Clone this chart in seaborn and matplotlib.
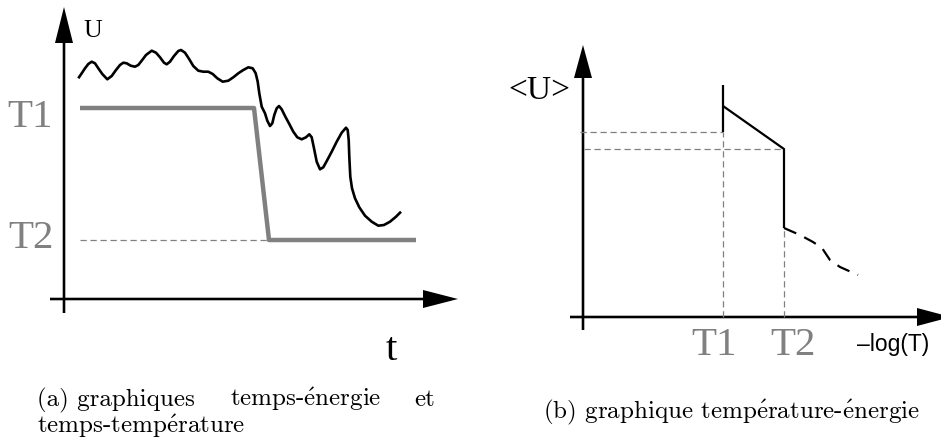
import matplotlib
matplotlib.use("Agg")
import matplotlib.pyplot as plt
import seaborn as sns

# (a) time-energy / time-temperature, units = px offsets from the axes origin
time_u = [14.3, 17.7, 21, 24.3, 27.7, 31, 34.3, 38.3, 43.3, 47.7,
          52, 56, 59.3, 62.7, 66.7, 71, 74.3, 77.7, 82, 87.7,
          92, 96, 100, 102.7, 106, 110, 114.3, 117, 121, 125.3,
          129.3, 134.3, 139.3, 144.3, 148.7, 153.3, 158.7, 164.3, 169.3, 174.3,
          179.3, 184.3, 188.7, 191.7, 193.7, 195.3, 197.7,
          201, 203.3, 206, 208.3, 210.3, 212.7, 215, 217.7, 221, 225.3,
          229.3, 233.3, 237.7, 242, 245.3, 247.7, 250, 252.7, 256, 259.3,
          263.3, 267.7, 272.7, 277.7, 282, 283.7, 284.7, 285.3, 286.3, 288,
          291, 295.3, 301, 307.7, 314.3, 320, 326, 332, 337]
energy_u = [220.7, 225.7, 230.7, 235, 237.3, 235.7, 230.7, 225, 219.7, 223,
            229, 234, 236.3, 235.7, 233.3, 232.3, 234, 238.3, 244, 248.3,
            246.3, 241.7, 236.3, 234.7, 237.3, 243, 248, 249, 246.3, 239.7,
            233, 228.3, 227.3, 227.3, 225, 220.7, 217.3, 218.3, 221.7, 225.7,
            229, 231.7, 230.7, 225.7, 217.3, 205.7, 192.3,
            185.7, 178.3, 173, 175.7, 184, 190.7, 193, 189.7, 183, 175,
            167.3, 161.7, 159.7, 161.7, 164.7, 161.7, 150.7, 137.3, 129.7, 131.7,
            139, 147.3, 157.3, 166.3, 171.3, 169, 159, 142.3, 122.3, 110.7,
            100.7, 91.7, 83.3, 77.3, 73.3, 74, 77.3, 82.3, 87.3]
time_temp = [16, 190, 205, 352]
temp_level = [191, 191, 59, 59]
T1_level, T2_level = 191, 59

# (b) temperature-energy
x_T1, x_T2 = 140, 201
jump_x = [140, 140]
jump_u = [185, 232]
mean_x = [140, 201, 201]
mean_u = [211, 168, 89]
tail_x = [201, 217, 230, 239, 247, 257, 275]
tail_u = [89, 82, 75, 69, 57, 50, 42]
U_at_T1, U_at_T2 = 185, 168

captions = {
    "a1": "(a) graphiques",
    "a2": r"temps-$\mathrm{\acute{e}}$nergie",
    "a3": "et",
    "a4": r"temps-temp$\mathrm{\acute{e}}$rature",
    "b": r"(b) graphique temp$\mathrm{\acute{e}}$rature-$\mathrm{\acute{e}}$nergie",
}

sns.set_style("white")
plt.rcParams["mathtext.fontset"] = "cm"

W, H = 941, 443
fig = plt.figure(figsize=(W / 100, H / 100), dpi=100)
GRAY = "#808080"
SERIF = ["Liberation Serif", "DejaVu Serif"]
CM = ["cmr10", "Liberation Serif"]
LINE = dict(sort=False, estimator=None, solid_joinstyle="round",
            solid_capstyle="butt")


def panel(x0, x1, ox, oy):
    ax = fig.add_axes([x0 / W, 0, (x1 - x0) / W, 1])
    ax.set_xlim(x0 - ox, x1 - ox)
    ax.set_ylim(oy - H, oy)
    ax.axis("off")
    return ax


def axis_arrow(ax, x, y, dx, dy, hl):
    ax.arrow(x, y, dx, dy, width=2.6, head_width=18, head_length=hl,
             length_includes_head=True, color="k", lw=0, clip_on=False)


# ---- panel (a)
ax = panel(0, 470, 64, 299)
axis_arrow(ax, 0, -14, 0, 306, 36)
axis_arrow(ax, -14, 0, 408, 0, 35)
ax.plot([time_temp[0], time_temp[2]], [T2_level, T2_level], color=GRAY, lw=0.9,
        linestyle=(0, (5, 3)))
sns.lineplot(x=time_temp, y=temp_level, ax=ax, color=GRAY, lw=3.2, **LINE)
sns.lineplot(x=time_u, y=energy_u, ax=ax, color="k", lw=1.9, **LINE)
ax.text(-34, 299 - 127, "T1", color=GRAY, fontsize=29.5, family=SERIF,
        ha="center", va="baseline")
ax.text(-33, 299 - 248, "T2", color=GRAY, fontsize=29.5, family=SERIF,
        ha="center", va="baseline")
ax.text(19, 299 - 37, "U", color="k", fontsize=18.5, family=SERIF,
        ha="left", va="baseline")
ax.text(327, 299 - 360, "t", color="k", fontsize=29.5, family=SERIF,
        ha="center", va="baseline")

# ---- panel (b)
ax = panel(470, W, 583, 317)
axis_arrow(ax, 0, -13, 0, 285, 33)
axis_arrow(ax, -13, 0, 381, 0, 34)
ax.hlines([U_at_T1, U_at_T2], [-3, 1], [x_T1, x_T2], color=GRAY, lw=0.9,
          linestyle=(0, (5, 3)))
ax.vlines([x_T1, x_T2], 0, [U_at_T1, tail_u[0]], color=GRAY, lw=0.9,
          linestyle=(0, (5, 3)))
sns.lineplot(x=jump_x, y=jump_u, ax=ax, color="k", lw=1.6, **LINE)
sns.lineplot(x=mean_x, y=mean_u, ax=ax, color="k", lw=1.6, **LINE)
sns.lineplot(x=tail_x, y=tail_u, ax=ax, color="k", lw=1.6,
             linestyle=(0, (6, 4)), sort=False, estimator=None)
ax.text(-13, 317 - 99, "<U>", color="k", fontsize=24, family=SERIF,
        ha="right", va="baseline")
ax.text(714 - 583, 317 - 355, "T1", color=GRAY, fontsize=29.5, family=SERIF,
        ha="center", va="baseline")
ax.text(793 - 583, 317 - 355, "T2", color=GRAY, fontsize=29.5, family=SERIF,
        ha="center", va="baseline")
ax.text(857 - 583, 317 - 351, "\u2013log(T)", color="k", fontsize=16.5,
        family=["Liberation Sans", "DejaVu Sans"], ha="left", va="baseline")

# ---- captions
cap = dict(fontsize=18, family=CM, va="baseline", color="k")
fig.text(37 / W, 1 - 406 / H, captions["a1"], ha="left", **cap)
fig.text(230 / W, 1 - 406 / H, captions["a2"], ha="left", **cap)
fig.text(435 / W, 1 - 406 / H, captions["a3"], ha="right", **cap)
fig.text(37 / W, 1 - 433 / H, captions["a4"], ha="left", **cap)
fig.text(543 / W, 1 - 418 / H, captions["b"], ha="left", **cap)

fig.savefig("out.png", dpi=100)
